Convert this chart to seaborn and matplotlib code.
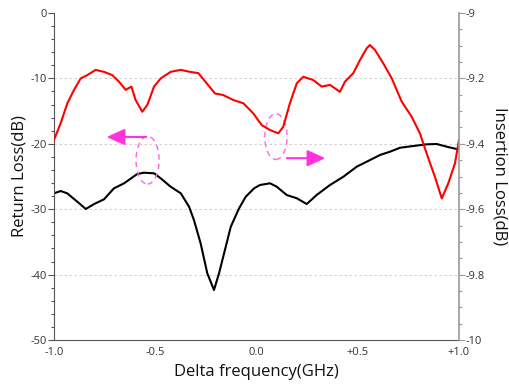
import matplotlib
matplotlib.use("Agg")
import matplotlib.pyplot as plt
import seaborn as sns
from matplotlib.patches import Ellipse
from matplotlib.ticker import MultipleLocator, FixedLocator

# Return loss (left axis, black)
rl_x = [-1.0, -0.967, -0.935, -0.885, -0.843, -0.802, -0.753, -0.704, -0.654, -0.589,
        -0.556, -0.506, -0.473, -0.424, -0.374, -0.333, -0.309, -0.276, -0.243, -0.210,
        -0.185, -0.160, -0.127, -0.086, -0.053, -0.012, 0.017, 0.067, 0.100, 0.149,
        0.199, 0.248, 0.297, 0.363, 0.429, 0.495, 0.544, 0.610, 0.659, 0.709,
        0.774, 0.840, 0.890, 0.939, 0.989, 1.0]
rl_y = [-27.57, -27.22, -27.57, -28.85, -29.97, -29.21, -28.49, -26.81, -26.04, -24.62,
        -24.42, -24.51, -25.28, -26.56, -27.57, -29.62, -31.65, -35.21, -39.80, -42.36,
        -39.80, -36.74, -32.68, -29.86, -28.09, -26.81, -26.30, -26.04, -26.56, -27.83,
        -28.33, -29.21, -27.83, -26.30, -25.03, -23.50, -22.74, -21.71, -21.21, -20.60,
        -20.34, -20.08, -20.03, -20.44, -20.80, -20.80]

# Insertion loss (right axis, red)
il_x = [-1.0, -0.967, -0.934, -0.901, -0.868, -0.836, -0.794, -0.753, -0.712, -0.679,
        -0.646, -0.618, -0.597, -0.564, -0.539, -0.506, -0.473, -0.424, -0.374, -0.328,
        -0.287, -0.246, -0.205, -0.164, -0.115, -0.065, -0.016, 0.026, 0.067, 0.108,
        0.132, 0.165, 0.199, 0.231, 0.280, 0.322, 0.363, 0.412, 0.437, 0.478,
        0.511, 0.544, 0.560, 0.585, 0.626, 0.668, 0.717, 0.766, 0.807, 0.840,
        0.881, 0.915, 0.947, 0.980, 1.0]
il_y = [-9.388, -9.337, -9.276, -9.235, -9.200, -9.190, -9.174, -9.180, -9.190, -9.210,
        -9.235, -9.225, -9.266, -9.302, -9.281, -9.225, -9.200, -9.180, -9.174, -9.180,
        -9.184, -9.215, -9.246, -9.251, -9.266, -9.276, -9.307, -9.343, -9.358, -9.368,
        -9.348, -9.276, -9.215, -9.195, -9.205, -9.225, -9.220, -9.241, -9.210, -9.184,
        -9.144, -9.108, -9.098, -9.113, -9.154, -9.200, -9.271, -9.317, -9.368, -9.429,
        -9.501, -9.567, -9.521, -9.460, -9.388]

x_ticks = [-1.0, -0.5, 0.0, 0.5, 1.0]
x_labels = ["-1.0", "-0.5", "0.0", "+0.5", "+1.0"]
left_ticks = [0, -10, -20, -30, -40, -50]
left_labels = ["0", "-10", "-20", "-30", "-40", "-50"]
right_ticks = [-9.0, -9.2, -9.4, -9.6, -9.8, -10.0]
right_labels = ["-9", "-9.2", "-9.4", "-9.6", "-9.8", "-10"]

sns.set_style("white")
plt.rcParams["font.family"] = ["Open Sans", "DejaVu Sans"]

fig = plt.figure(figsize=(5.1, 3.85), dpi=100)
ax = fig.add_axes([54/510, 1-340/385, 405/510, 327/385])
ax2 = ax.twinx()

for yv in [-10, -20, -30, -40]:
    ax.axhline(yv, color="#c8c8c8", lw=0.6, ls=(0, (3, 3)), zorder=0)

sns.lineplot(x=rl_x, y=rl_y, ax=ax, color="black", lw=1.5, estimator=None, sort=False)
sns.lineplot(x=il_x, y=il_y, ax=ax2, color="#ff0000", lw=1.5, estimator=None, sort=False)

ax.set_xlim(-1.0, 1.0)
ax.set_ylim(-50, 0)
ax2.set_ylim(-10, -9)

ax.xaxis.set_major_locator(FixedLocator(x_ticks))
ax.set_xticklabels(x_labels)
ax.xaxis.set_minor_locator(MultipleLocator(0.1))
ax.yaxis.set_major_locator(FixedLocator(left_ticks))
ax.set_yticklabels(left_labels)
ax.yaxis.set_minor_locator(MultipleLocator(2))
ax2.yaxis.set_major_locator(FixedLocator(right_ticks))
ax2.set_yticklabels(right_labels)
ax2.yaxis.set_minor_locator(MultipleLocator(0.05))

tc = "#333333"
for a in (ax, ax2):
    a.tick_params(axis="both", which="major", direction="out", length=4, width=0.8,
                  labelsize=8, colors="#555555", labelcolor=tc, pad=1)
    a.tick_params(axis="both", which="minor", direction="out", length=2.5, width=0.8,
                  colors="#555555")
    a.spines["top"].set_visible(False)
ax.spines["right"].set_visible(False)
ax.spines["left"].set_color("#555555")
ax.spines["bottom"].set_color("#555555")
ax2.spines["left"].set_visible(False)
ax2.spines["bottom"].set_visible(False)
ax2.spines["right"].set_color("#999999")
ax2.spines["right"].set_linewidth(1.2)
ax2.tick_params(axis="y", which="both", colors="#999999", labelcolor=tc)

ax.set_xlabel("Delta frequency(GHz)", fontsize=12, color="#111111", labelpad=4)
ax.set_ylabel("Return Loss(dB)", fontsize=12, color="#111111", labelpad=2)
ax2.set_ylabel("Insertion Loss(dB)", fontsize=12, color="#111111", rotation=270, labelpad=16)

mag = "#ff33dd"
pink = "#ff66e0"
ax.add_patch(Ellipse((-0.538, -22.5), 0.114, 7.3, fill=False, ec=pink, lw=1.0,
                     ls=(0, (4, 3)), zorder=5))
ax.add_patch(Ellipse((0.096, -18.9), 0.11, 7.0, fill=False, ec=pink, lw=1.0,
                     ls=(0, (4, 3)), zorder=5))
ax.annotate("", xy=(-0.74, -18.96), xytext=(-0.545, -18.96),
            arrowprops=dict(arrowstyle="-|>,head_length=1.1,head_width=0.5",
                            color=mag, lw=1.5, shrinkA=0, shrinkB=0), zorder=6)
ax.annotate("", xy=(0.34, -22.2), xytext=(0.15, -22.2),
            arrowprops=dict(arrowstyle="-|>,head_length=1.1,head_width=0.5",
                            color=mag, lw=1.5, shrinkA=0, shrinkB=0), zorder=6)

fig.savefig("out.png", dpi=100)
